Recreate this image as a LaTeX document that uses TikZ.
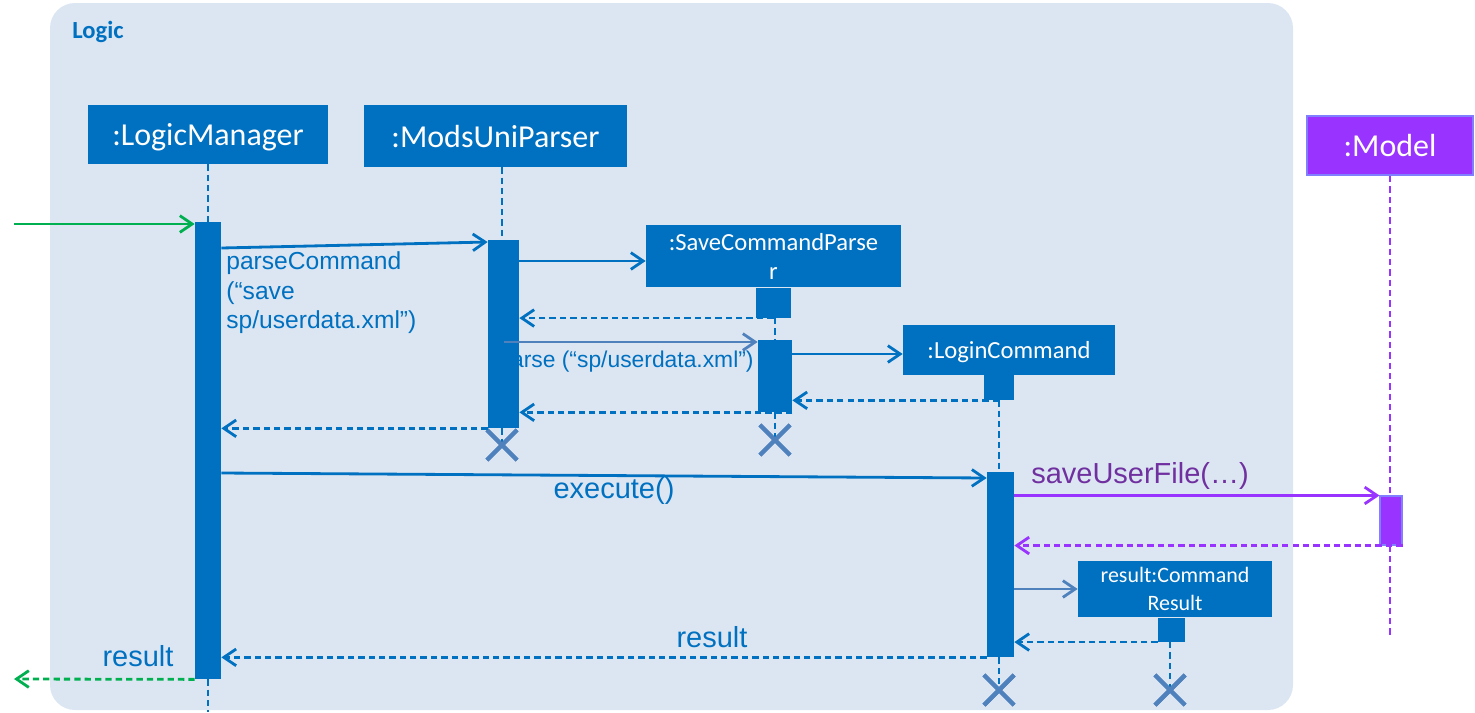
\documentclass[tikz,border=0pt]{standalone}
\usepackage{fontspec}
\setmainfont{Carlito}
\newfontfamily\msgfont{Liberation Sans}
\usetikzlibrary{arrows.meta,positioning,shapes.misc}

\definecolor{frameblue}{HTML}{DCE6F2}
\definecolor{objblue}{HTML}{0070C0}
\definecolor{steelblue}{HTML}{4F81BD}
\definecolor{foundgreen}{HTML}{00B050}
\definecolor{modelpurple}{HTML}{9933FF}
\definecolor{modeledge}{HTML}{7F7FFF}
\definecolor{labelpurple}{HTML}{7030A0}

\tikzset{
	logicframe/.style={fill=frameblue, draw=none, rounded corners=5mm},
	framelabel/.style={text=objblue, font=\bfseries\fontsize{14}{16}\selectfont, inner sep=0pt},
	objbox/.style={rectangle, fill=objblue, text=white, inner sep=0pt, align=center, font=\fontsize{18.2}{22}\selectfont},
	oneline/.style={text depth=0pt},
	modelbox/.style={objbox, oneline, fill=modelpurple, draw=modeledge, line width=1.1pt},
	actbar/.style={rectangle, fill=objblue, inner sep=0pt},
	lifeline/.style={draw=objblue, line width=1.3pt, dash pattern=on 3.6pt off 2.3pt},
	msg/.style={draw=objblue, line width=1.6pt, -{Straight Barb[length=7pt,width=9.5pt]}},
	ret/.style={msg, dash pattern=on 3.6pt off 2.3pt},
	msglabel/.style={text=objblue, inner sep=0pt, font=\msgfont\fontsize{16.5}{20}\selectfont},
	xmark/.style={cross out, draw=steelblue, line width=2.4pt, minimum size=5.2mm, inner sep=0pt}
}

\begin{document}
\begin{tikzpicture}[x=0.2mm, y=-0.2mm]
	\useasboundingbox (0,0) rectangle (1475,712);
	
	%%%%% frame %%%%%
	\draw[logicframe] (50,3) rectangle (1293,710);
	\node[framelabel] (logic) at (98,32) {Logic};
	
	%%%%% objects %%%%%
	\node[objbox, oneline, minimum width=48mm, minimum height=11.8mm] (lm) at (208,134.5) {:LogicManager};
	\node[objbox, oneline, minimum width=52.6mm, minimum height=12.4mm] (mup) at (495.5,136) {:ModsUniParser};
	\node[modelbox, minimum width=33.2mm, minimum height=11.8mm] (model) at (1390,145.5) {:Model};
	\node[objbox, minimum width=51mm, minimum height=12.4mm, font=\fontsize{14}{16.5}\selectfont] (scp) at (773.5,256) {:SaveCommandParse\\r};
	\node[objbox, oneline, minimum width=42.4mm, minimum height=10mm, font=\fontsize{14}{16.5}\selectfont] (lc) at (1009,350) {:LoginCommand};
	\node[objbox, minimum width=38.8mm, minimum height=11.2mm, font=\fontsize{12.5}{16}\selectfont] (cr) at (1175,589) {result:Command\\Result};
	
	%%%%% end points %%%%%
	\coordinate (lmend) at (208,712);
	\coordinate (modelend) at (1390,635);
	\coordinate (caller) at (14,224);
	\coordinate (callback) at (14,679);
	\node[xmark] (mupx) at (502,445) {};
	\node[xmark] (scpx) at (775,440) {};
	\node[xmark] (lcx) at (999,690) {};
	\node[xmark] (crx) at (1170,690) {};
	
	%%%%% labels %%%%%
	\node[msglabel, anchor=north west, align=left, font=\msgfont\fontsize{14}{17}\selectfont] (pclabel) at (226,251) {parseCommand\\(“save\\sp/userdata.xml”)};
	\node[msglabel, font=\msgfont\fontsize{13}{15}\selectfont] (plabel) at (626,362) {parse (“sp/userdata.xml”)};
	\node[msglabel] (exlabel) at (614,491) {execute()};
	\node[msglabel, text=labelpurple] (sulabel) at (1140,476) {saveUserFile(…)};
	\node[msglabel] (reslabel) at (712,637) {result};
	\node[msglabel] (outlabel) at (138,656) {result};
	
	%%%%% activations %%%%%
	\node[actbar, minimum width=5.2mm, minimum height=91.4mm] (lmbar) at (208,450.5) {};
	\node[actbar, minimum width=6.2mm, minimum height=37.6mm] (mupbar) at (503.5,334) {};
	\node[actbar, minimum width=7mm, minimum height=6mm, below=0pt of scp] (scpbar) {};
	\node[actbar, minimum width=6.8mm, minimum height=14.4mm] (scpbartwo) at (775,376) {};
	\node[actbar, minimum width=6mm, minimum height=5mm] (lcbar) at (999,387.5) {};
	\node[actbar, minimum width=5.4mm, minimum height=37mm] (lcbartwo) at (1000.5,564.5) {};
	\node[actbar, minimum width=5.4mm, minimum height=4.8mm, below=0pt of cr, xshift=-0.7mm] (crbar) {};
	\node[actbar, fill=modelpurple, draw=modeledge, line width=0.6pt, minimum width=4.4mm, minimum height=9.8mm] (modelbar) at (1391,520.5) {};
	
	%%%%% lifelines %%%%%
	\draw[lifeline] (lm.south) -- (lmbar.north);
	\draw[lifeline] (lmbar.south) -- (lmend);
	\draw[lifeline] (mup.south -| mupx) -- (mupbar.north -| mupx);
	\draw[lifeline] (mupbar.south -| mupx) -- (mupx.center);
	\draw[lifeline] (scpbar.south -| scpx) -- (scpbartwo.north -| scpx);
	\draw[lifeline] (scpbartwo.south -| scpx) -- (scpx.center);
	\draw[lifeline] (lcbar.south) -- (lcbartwo.north -| lcbar);
	\draw[lifeline] (lcbartwo.south -| lcx) -- (lcx.center);
	\draw[lifeline] (crbar.south -| crx) -- (crx.center);
	\draw[lifeline, draw=modelpurple] (model.south) -- (modelbar.north -| model);
	\draw[lifeline, draw=modelpurple] (modelbar.south -| model) -- (modelend);
	\node[xmark] at (mupx) {};
	\node[xmark] at (scpx) {};
	\node[xmark] at (lcx) {};
	\node[xmark] at (crx) {};
	
	%%%%% messages %%%%%
	\draw[msg, draw=foundgreen] (caller) -- (lmbar.west |- caller);
	\draw[msg] (lmbar.east |- 0,248) -- (mupbar.west |- 0,242);
	\draw[msg] (mupbar.east |- 0,261) -- (scp.west |- 0,261);
	\draw[ret] (scpbar.south) -- (mupbar.east |- scpbar.south);
	\draw[msg, draw=steelblue] (mupbar.center |- 0,342) -- (scpbartwo.west |- 0,342);
	\draw[msg] (scpbartwo.east |- 0,354) -- (lc.west |- 0,354);
	\draw[ret] (lcbar.south) -- (scpbartwo.east |- lcbar.south);
	\draw[ret] (scpbartwo.south east) -- (mupbar.east |- scpbartwo.south);
	\draw[ret] (mupbar.south west) -- (lmbar.east |- mupbar.south);
	\draw[msg] (lmbar.east |- 0,473) -- (lcbartwo.west |- 0,478);
	\draw[msg, draw=modelpurple] (lcbartwo.east |- modelbar.north) -- (modelbar.north west);
	\draw[ret, draw=modelpurple] (modelbar.south east) -- (lcbartwo.east |- modelbar.south);
	\draw[msg, draw=steelblue] (lcbartwo.east |- cr.west) -- (cr.west);
	\draw[ret] (crbar.south west) -- (lcbartwo.east |- crbar.south);
	\draw[ret] (lcbartwo.south west) -- (lmbar.east |- lcbartwo.south);
	\draw[ret, draw=foundgreen] (lmbar.south west) -- (callback);
	
\end{tikzpicture}
\end{document}
